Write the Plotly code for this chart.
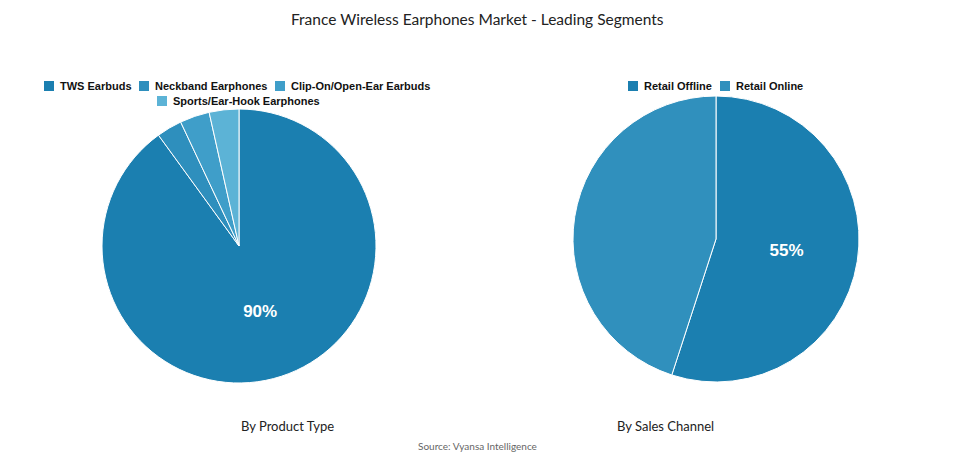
import plotly.graph_objects as go

prod_labels = ["TWS Earbuds", "Neckband Earphones", "Clip-On/Open-Ear Earbuds", "Sports/Ear-Hook Earphones"]
prod_values = [90, 3, 3.5, 3.5]
prod_text = ["<b>90%</b>", "", "", ""]
chan_labels = ["Retail Offline", "Retail Online"]
chan_values = [55, 45]
chan_text = ["<b>55%</b>", ""]

prod_colors = ["#1b7fb0", "#2e8fbd", "#3f9ec9", "#5cb3d6"]
chan_colors = ["#1b7fb0", "#3090bd"]

OFF = 8  # page offset
W, H = 955 - OFF, 454 - OFF


def px(x):
    return (x - OFF) / W


def py(y):
    return 1 - (y - OFF) / H


fig = go.Figure()
fig.add_trace(go.Pie(labels=prod_labels, values=prod_values, text=prod_text, texttemplate="%{text}",
                     textposition="inside", sort=False, direction="clockwise", rotation=0,
                     marker=dict(colors=prod_colors, line=dict(color="white", width=1)),
                     textfont=dict(color="white", size=17, family="Liberation Sans, Arial"),
                     domain=dict(x=[px(102), px(376)], y=[py(383), py(109)]), showlegend=False,
                     hoverinfo="label+percent"))
fig.add_trace(go.Pie(labels=chan_labels, values=chan_values, text=chan_text, texttemplate="%{text}",
                     textposition="inside", sort=False, direction="clockwise", rotation=0,
                     marker=dict(colors=chan_colors, line=dict(color="white", width=1)),
                     textfont=dict(color="white", size=17, family="Liberation Sans, Arial"),
                     domain=dict(x=[px(573), px(859)], y=[py(382), py(96)]), showlegend=False,
                     hoverinfo="label+percent"))

legend_items = [
    (prod_labels[0], prod_colors[0], 44, 86),
    (prod_labels[1], prod_colors[1], 139, 86),
    (prod_labels[2], prod_colors[2], 275, 86),
    (prod_labels[3], prod_colors[3], 157, 101),
    (chan_labels[0], chan_colors[0], 628, 86),
    (chan_labels[1], chan_colors[1], 720, 86),
]
shapes = []
annotations = []
for lab, col, lx, ly in legend_items:
    shapes.append(dict(type="rect", xref="paper", yref="paper",
                       x0=px(lx), x1=px(lx + 10), y0=py(ly + 5), y1=py(ly - 5),
                       fillcolor=col, line=dict(width=0)))
    annotations.append(dict(text="<b>" + lab + "</b>", x=px(lx + 14), y=py(ly), xref="paper", yref="paper",
                            xanchor="left", yanchor="middle", showarrow=False,
                            font=dict(size=11, color="#111", family="Liberation Sans, Arial")))

annotations += [
    dict(text="France Wireless Earphones Market - Leading Segments", x=px(477), y=1.0,
         xref="paper", yref="paper", showarrow=False, yanchor="top",
         font=dict(size=15.5, color="#222")),
    dict(text="By Product Type", x=px(239), y=py(436), xref="paper", yref="paper", showarrow=False,
         font=dict(size=13, color="#222")),
    dict(text="By Sales Channel", x=px(716), y=py(436), xref="paper", yref="paper", showarrow=False,
         font=dict(size=13, color="#222")),
    dict(text="Source: Vyansa Intelligence", x=px(477), y=0.0, xref="paper", yref="paper",
         yanchor="bottom", showarrow=False, font=dict(size=10, color="#666")),
]

fig.update_layout(
    width=W, height=H, margin=dict(l=0, r=0, t=0, b=0),
    paper_bgcolor="white", plot_bgcolor="white",
    font=dict(family="Lato, Arial", color="#222"),
    showlegend=False,
    shapes=shapes,
    annotations=annotations,
)
fig.write_html("out.html")
